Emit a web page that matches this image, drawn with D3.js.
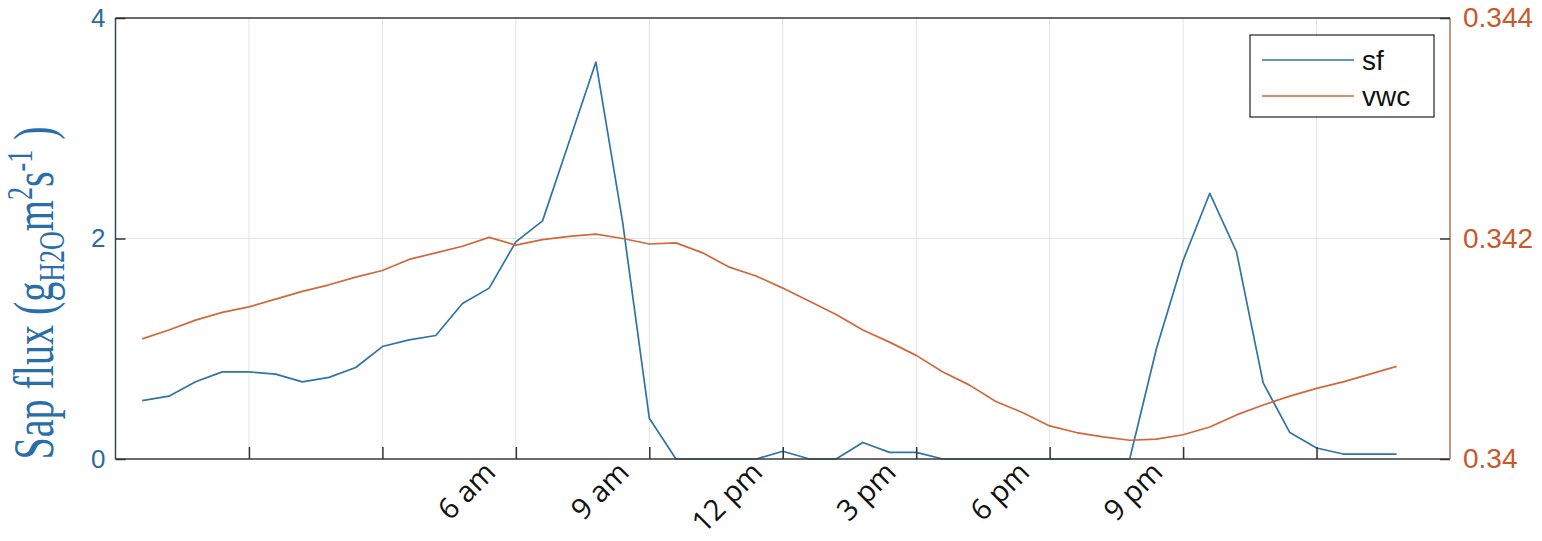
<!DOCTYPE html>
<html>
<head>
<meta charset="utf-8">
<script src="https://cdn.jsdelivr.net/npm/d3@7"></script>
<style>
html,body{margin:0;padding:0;background:#fff;}
svg{display:block;}
</style>
</head>
<body>
<svg id="chart" width="1542" height="541"></svg>
<script>
// ---- data (hours relative to midnight; each grid step = 3 h) ----
const hours = [-2.4,-1.8,-1.2,-0.6,0,0.6,1.2,1.8,2.4,3,3.6,4.2,4.8,5.4,6,6.6,7.2,7.8,8.4,9,
               9.6,10.2,10.8,11.4,12,12.6,13.2,13.8,14.4,15,15.6,16.2,16.8,17.4,18,18.6,19.2,19.8,
               20.4,21,21.6,22.2,22.8,23.4,24,24.6,25.2,25.8];
const sf = [0.53,0.57,0.70,0.79,0.79,0.77,0.70,0.74,0.83,1.02,1.08,1.12,1.41,1.55,1.97,2.16,2.88,3.60,2.15,0.37,
            0,0,0,0,0.07,0,0,0.15,0.06,0.06,0,0,0,0,0,0,0,0,
            1.00,1.80,2.41,1.88,0.69,0.24,0.10,0.045,0.045,0.045];
const vwc = [0.34109,0.34117,0.34126,0.34133,0.34138,0.34145,0.34152,0.34158,0.34165,0.34171,0.34181,0.34187,0.34193,0.34201,
             0.34194,0.34199,0.34202,0.34204,0.34200,0.34195,0.34196,0.34187,0.34174,0.34166,0.34155,0.34143,0.34131,
             0.34117,0.34106,0.34094,0.34079,0.34067,0.34052,0.34042,0.34030,0.34024,0.34020,0.34017,0.34018,0.34022,
             0.34029,0.34040,0.34049,0.34057,0.34064,0.34070,0.34077,0.34084];
const xTicks = [0,3,6,9,12,15,18,21,24];
const xTickLabels = ["","","6 am","9 am","12 pm","3 pm","6 pm","9 pm",""];
const yLeftTicks = [0,2,4];
const yRightTicks = [0.340,0.342,0.344];
const yRightLabels = ["0.34","0.342","0.344"];
const seriesNames = ["sf","vwc"];

// ---- layout ----
const L = 115.5, R = 1450, T = 18, B = 459;
const cBlue = "#2f74a4", cOrange = "#d0683b";
const cLeftTxt = "#2c6c9c", cRightTxt = "#c65a2c";

const svg = d3.select("#chart");
const x = d3.scaleLinear().domain([-3, 27]).range([L, R]);
const yL = d3.scaleLinear().domain([0, 4]).range([B, T]);
const yR = d3.scaleLinear().domain([0.340, 0.344]).range([B, T]);

// grid
const grid = svg.append("g");
grid.selectAll("line.vg").data(xTicks).join("line")
  .attr("x1", d => x(d)).attr("x2", d => x(d)).attr("y1", T).attr("y2", B)
  .attr("stroke", "#e1e4e6").attr("stroke-width", 1);
grid.selectAll("line.hg").data(yLeftTicks.filter(d => d > 0 && d < 4)).join("line")
  .attr("x1", L).attr("x2", R).attr("y1", d => yL(d)).attr("y2", d => yL(d))
  .attr("stroke", "#e1e4e6").attr("stroke-width", 1);

// lines
const lineSf = d3.line().x((d, i) => x(hours[i])).y(d => yL(d));
const lineVwc = d3.line().x((d, i) => x(hours[i])).y(d => yR(d));
svg.append("path").datum(sf).attr("d", lineSf).attr("fill", "none")
  .attr("stroke", cBlue).attr("stroke-width", 1.7).attr("stroke-linejoin", "round");
svg.append("path").datum(vwc).attr("d", lineVwc).attr("fill", "none")
  .attr("stroke", cOrange).attr("stroke-width", 1.7).attr("stroke-linejoin", "round");

// axes frame
const frame = svg.append("g");
frame.append("line").attr("x1", L).attr("x2", R).attr("y1", T).attr("y2", T).attr("stroke", "#3a3a3a").attr("stroke-width", 1.5);
frame.append("line").attr("x1", L).attr("x2", R).attr("y1", B).attr("y2", B).attr("stroke", "#3a3a3a").attr("stroke-width", 1.5);
frame.append("line").attr("x1", L).attr("x2", L).attr("y1", T).attr("y2", B).attr("stroke", "#2d4a60").attr("stroke-width", 1.5);
frame.append("line").attr("x1", R).attr("x2", R).attr("y1", T).attr("y2", B).attr("stroke", "#a97a55").attr("stroke-width", 1.5);

// x axis (ticks inward, rotated labels)
const xAxis = d3.axisBottom(x).tickValues(xTicks).tickSizeInner(-12).tickSizeOuter(0)
  .tickFormat((d, i) => xTickLabels[i]);
const gx = svg.append("g").attr("transform", `translate(0,${B})`).call(xAxis);
gx.select(".domain").remove();
gx.selectAll(".tick line").attr("stroke", "#333").attr("stroke-width", 1.5);
gx.selectAll(".tick text")
  .attr("font-family", "'Open Sans', sans-serif").attr("font-size", 29).attr("fill", "#111")
  .attr("text-anchor", "end").attr("dy", null).attr("y", null)
  .attr("transform", "translate(-19,15) rotate(-45)");

// left y axis
const yAxisL = d3.axisLeft(yL).tickValues(yLeftTicks).tickSizeInner(-10).tickSizeOuter(0)
  .tickFormat(d3.format("d"));
const gyl = svg.append("g").attr("transform", `translate(${L},0)`).call(yAxisL);
gyl.select(".domain").remove();
gyl.selectAll(".tick line").attr("stroke", "#333").attr("stroke-width", 1.5);
gyl.selectAll(".tick text").attr("font-family", "'Liberation Sans', Arial, sans-serif")
  .attr("font-size", 26).attr("fill", cLeftTxt).attr("x", -10);

// right y axis
const yAxisR = d3.axisRight(yR).tickValues(yRightTicks).tickSizeInner(-10).tickSizeOuter(0)
  .tickFormat((d, i) => yRightLabels[i]);
const gyr = svg.append("g").attr("transform", `translate(${R},0)`).call(yAxisR);
gyr.select(".domain").remove();
gyr.selectAll(".tick line").attr("stroke", "#333").attr("stroke-width", 1.5);
gyr.selectAll(".tick text").attr("font-family", "'Liberation Sans', Arial, sans-serif")
  .attr("font-size", 28).attr("fill", cRightTxt).attr("x", 13);

// left y label
const ylab = svg.append("text")
  .attr("transform", "translate(53,293) rotate(-90) scale(1,1.4)")
  .attr("text-anchor", "middle")
  .attr("font-family", "'Liberation Serif', 'Times New Roman', serif")
  .attr("font-size", 40).attr("fill", "#2a6ea8");
ylab.append("tspan").text("Sap flux (g");
ylab.append("tspan").attr("font-size", 26).attr("dy", 8).text("H2O");
ylab.append("tspan").attr("dy", -8).text("m");
ylab.append("tspan").attr("font-size", 26).attr("dy", -15).text("2");
ylab.append("tspan").attr("dy", 15).text("s");
ylab.append("tspan").attr("font-size", 26).attr("dy", -15).text("-1");
ylab.append("tspan").attr("dy", 15).text(" )");

// legend
const lg = svg.append("g");
lg.append("rect").attr("x", 1250).attr("y", 35).attr("width", 184).attr("height", 82)
  .attr("fill", "#fff").attr("stroke", "#333").attr("stroke-width", 1.3);
const lgColors = [cBlue, cOrange];
seriesNames.forEach((n, i) => {
  const yy = 60 + i * 36;
  lg.append("line").attr("x1", 1262).attr("x2", 1354).attr("y1", yy).attr("y2", yy)
    .attr("stroke", lgColors[i]).attr("stroke-width", 1.6);
  lg.append("text").attr("x", 1362).attr("y", yy).attr("dy", "0.35em")
    .attr("font-family", "'Liberation Sans', Arial, sans-serif").attr("font-size", 28)
    .attr("fill", "#111").text(n);
});
</script>
</body>
</html>
